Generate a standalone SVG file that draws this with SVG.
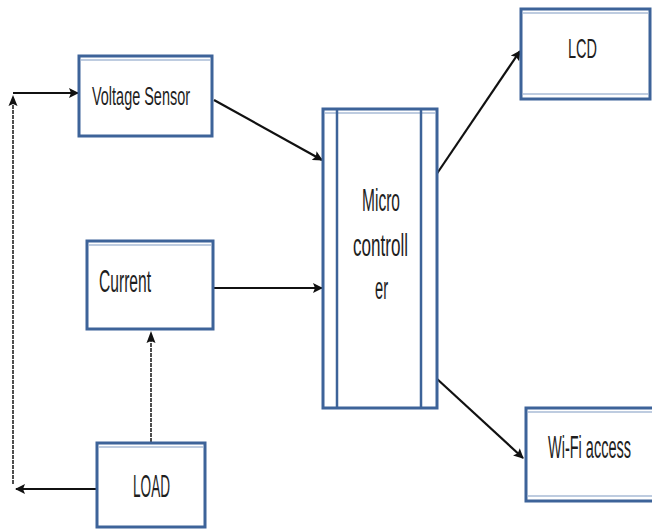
<svg xmlns="http://www.w3.org/2000/svg" width="652" height="529" viewBox="0 0 652 529">
<defs>
<style>
.box{fill:#fff;stroke:#3d6399;stroke-width:3}
.hl{stroke:#a9bbd6;stroke-width:1.5;fill:none}
.txt{font-family:"Liberation Sans",Arial,sans-serif;fill:#1e1e1e}
.ln{stroke:#111;stroke-width:2.2;fill:none}
.thin{stroke:#222;stroke-width:1.6;fill:none;stroke-dasharray:4 1}
</style>
<marker id="ah" markerWidth="10" markerHeight="10" refX="9" refY="5" orient="auto" markerUnits="userSpaceOnUse">
<path d="M0,0 L10,5 L0,10 L2,5 Z" fill="#111"/>
</marker>
</defs>
<rect width="652" height="529" fill="#fff"/>
<g id="connectors">
<line class="ln" x1="13" y1="93" x2="78" y2="93" marker-end="url(#ah)"/>
<line class="thin" x1="13" y1="484" x2="13" y2="103"/>
<path d="M13,95 L17.5,106 L13,104 L8.5,106 Z" fill="#111"/>
<line class="ln" x1="214" y1="100" x2="322" y2="160" marker-end="url(#ah)"/>
<line class="ln" x1="214" y1="288" x2="322" y2="288" marker-end="url(#ah)"/>
<line class="thin" x1="151" y1="442" x2="151" y2="340"/>
<path d="M151,331 L155.5,343 L151,341 L146.5,343 Z" fill="#111"/>
<line class="ln" x1="96" y1="489" x2="16" y2="489" marker-end="url(#ah)"/>
<line class="ln" x1="436" y1="175" x2="520" y2="51" marker-end="url(#ah)"/>
<line class="ln" x1="436" y1="378" x2="523" y2="458" marker-end="url(#ah)"/>
</g>
<g id="voltage-sensor">
<rect class="box" x="79" y="56" width="133" height="80"/>
<line class="hl" x1="81" y1="60" x2="210" y2="60"/>
<text class="txt" x="92" y="105" font-size="26" textLength="98" lengthAdjust="spacingAndGlyphs">Voltage Sensor</text>
</g>
<g id="current">
<rect class="box" x="87" y="241" width="126" height="88"/>
<line class="hl" x1="89" y1="245" x2="211" y2="245"/>
<text class="txt" x="99" y="292" font-size="31" textLength="52" lengthAdjust="spacingAndGlyphs">Current</text>
</g>
<g id="load">
<rect class="box" x="97" y="443" width="108" height="84"/>
<line class="hl" x1="99" y1="447" x2="203" y2="447"/>
<text class="txt" x="133" y="497" font-size="32" textLength="37" lengthAdjust="spacingAndGlyphs">LOAD</text>
</g>
<g id="microcontroller">
<rect class="box" x="323" y="109" width="114" height="299"/>
<line class="hl" x1="325" y1="113" x2="435" y2="113"/>
<line x1="337" y1="110" x2="337" y2="407" stroke="#3d6399" stroke-width="2.5"/>
<line x1="421" y1="110" x2="421" y2="407" stroke="#3d6399" stroke-width="2.5"/>
<text class="txt" x="362" y="211" font-size="31" textLength="38" lengthAdjust="spacingAndGlyphs">Micro</text>
<text class="txt" x="353" y="256" font-size="31" textLength="55" lengthAdjust="spacingAndGlyphs">controll</text>
<text class="txt" x="375" y="299" font-size="31" textLength="13" lengthAdjust="spacingAndGlyphs">er</text>
</g>
<g id="lcd">
<rect class="box" x="521" y="9" width="129" height="90"/>
<line class="hl" x1="523" y1="13" x2="648" y2="13"/>
<line class="hl" x1="523" y1="94" x2="648" y2="94"/>
<text class="txt" x="568" y="58" font-size="28" textLength="29" lengthAdjust="spacingAndGlyphs">LCD</text>
</g>
<g id="wifi-access">
<rect class="box" x="526" y="408" width="128" height="93"/>
<line class="hl" x1="528" y1="412" x2="652" y2="412"/>
<line class="hl" x1="528" y1="496" x2="652" y2="496"/>
<text class="txt" x="0" y="0" font-size="31" transform="translate(548,458) scale(0.468,1)">Wi-Fi access</text>
</g>
</svg>
